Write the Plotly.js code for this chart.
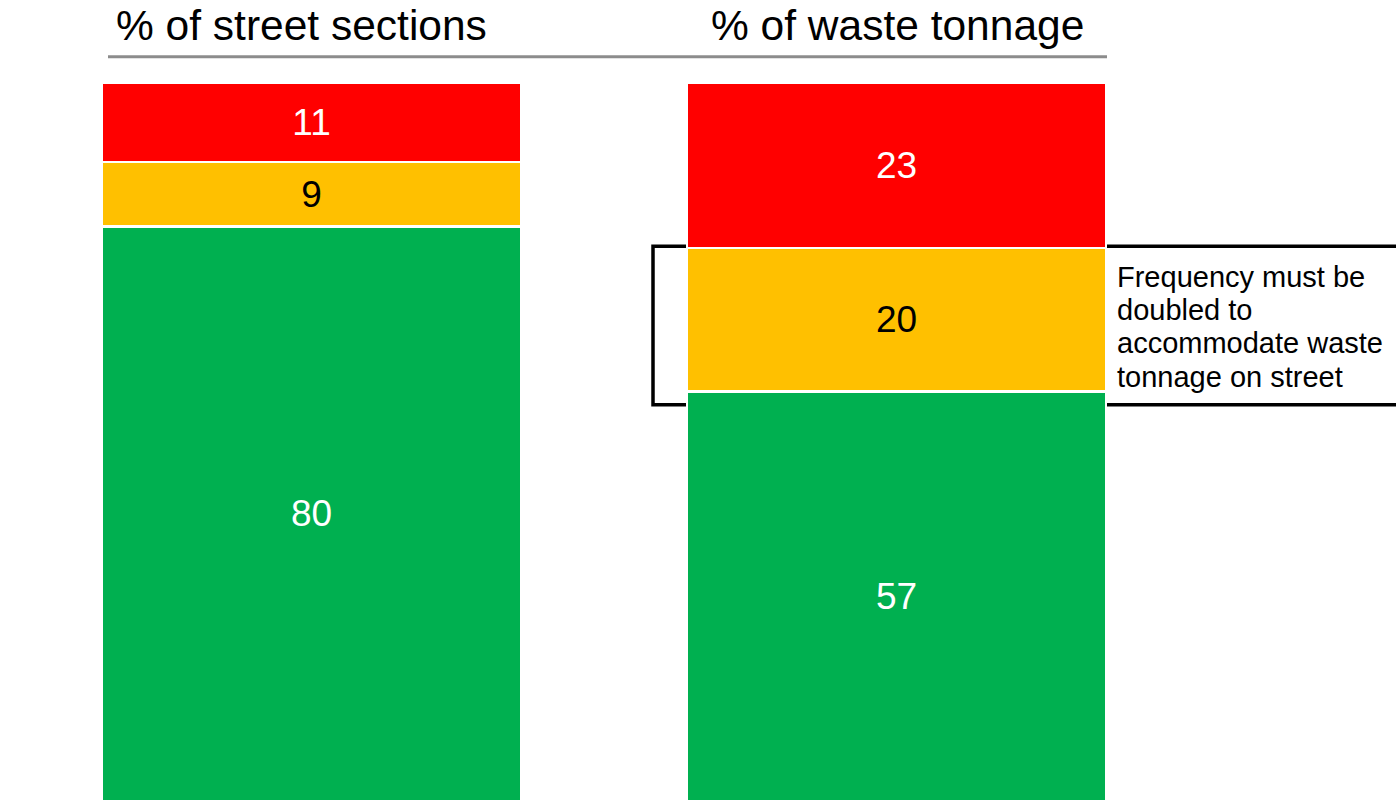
<!DOCTYPE html>
<html>
<head>
<meta charset="utf-8">
<script src="https://cdn.plot.ly/plotly-3.0.1.min.js"></script>
<style>
  html, body { margin: 0; padding: 0; background: #ffffff; overflow: hidden; }
  #chart { width: 1396px; height: 801px; }
</style>
</head>
<body>
<div id="chart"></div>
<script>
// ---- data ----
const categories = ['% of street sections', '% of waste tonnage'];
const greenValues = [80, 57];
const yellowValues = [9, 20];
const redValues = [11, 23];
const noteLines = ['Frequency must be', 'doubled to', 'accommodate waste', 'tonnage on street'];

// ---- styles ----
const FONT = 'Arial, "Liberation Sans", Helvetica, sans-serif';
const PLOT_TOP = 83, PLOT_H = 718, PLOT_L = 19, PLOT_W = 1170;
const py = px => 1 - (px - PLOT_TOP) / PLOT_H;   // pixel y -> paper y
const pxp = px => (px - PLOT_L) / PLOT_W;         // pixel x -> paper x

function seg(values, color, textColor) {
  return {
    type: 'bar',
    x: categories,
    y: values,
    width: 419 / 585,
    marker: { color: color, line: { color: '#ffffff', width: 2.5 } },
    text: values.map(v => String(v)),
    texttemplate: '%{text}',
    textposition: 'inside',
    insidetextanchor: 'middle',
    textangle: 0,
    constraintext: 'none',
    textfont: { family: FONT, size: 37, color: textColor },
    hoverinfo: 'skip',
    showlegend: false
  };
}

const data = [
  seg(greenValues, '#00B050', '#ffffff'),
  seg(yellowValues, '#FFC000', '#000000'),
  seg(redValues, '#FF0000', '#ffffff')
];

const titleShift = [-10, 1];
const annotations = categories.map((c, i) => ({
  xref: 'x', yref: 'paper',
  x: c, xshift: titleShift[i],
  y: py(25.5), yanchor: 'middle', xanchor: 'center',
  text: c, showarrow: false,
  font: { family: FONT, size: 42.5, color: '#000000' }
}));

const lineCenters = [277, 310, 343, 377];
noteLines.forEach((t, i) => {
  annotations.push({
    xref: 'paper', yref: 'paper',
    x: pxp(1115), xanchor: 'left',
    y: py(lineCenters[i]), yanchor: 'middle',
    text: t, showarrow: false, align: 'left',
    font: { family: FONT, size: 29, color: '#000000' }
  });
});

const layout = {
  width: 1396, height: 801,
  margin: { l: PLOT_L, r: 1396 - PLOT_L - PLOT_W, t: PLOT_TOP, b: 0, pad: 0 },
  paper_bgcolor: '#ffffff', plot_bgcolor: 'rgba(0,0,0,0)',
  barmode: 'stack',
  xaxis: { type: 'category', range: [-0.5, 1.5], showticklabels: false, showgrid: false, zeroline: false, showline: false, ticks: '', fixedrange: true },
  yaxis: { range: [0, 100], showticklabels: false, showgrid: false, zeroline: false, showline: false, ticks: '', fixedrange: true },
  shapes: [
    { type: 'line', xref: 'paper', yref: 'paper', x0: pxp(108), x1: pxp(1107), y0: py(56.7), y1: py(56.7),
      line: { color: '#8c8c8c', width: 3 } },
    { type: 'rect', xref: 'paper', yref: 'paper', layer: 'below',
      x0: pxp(653), x1: 1.3, y0: py(404.7), y1: py(246.3),
      line: { color: '#000000', width: 3.5 }, fillcolor: 'rgba(0,0,0,0)' }
  ],
  annotations: annotations,
  showlegend: false,
  font: { family: FONT }
};

Plotly.newPlot('chart', data, layout, { displayModeBar: false, staticPlot: true });
</script>
</body>
</html>
